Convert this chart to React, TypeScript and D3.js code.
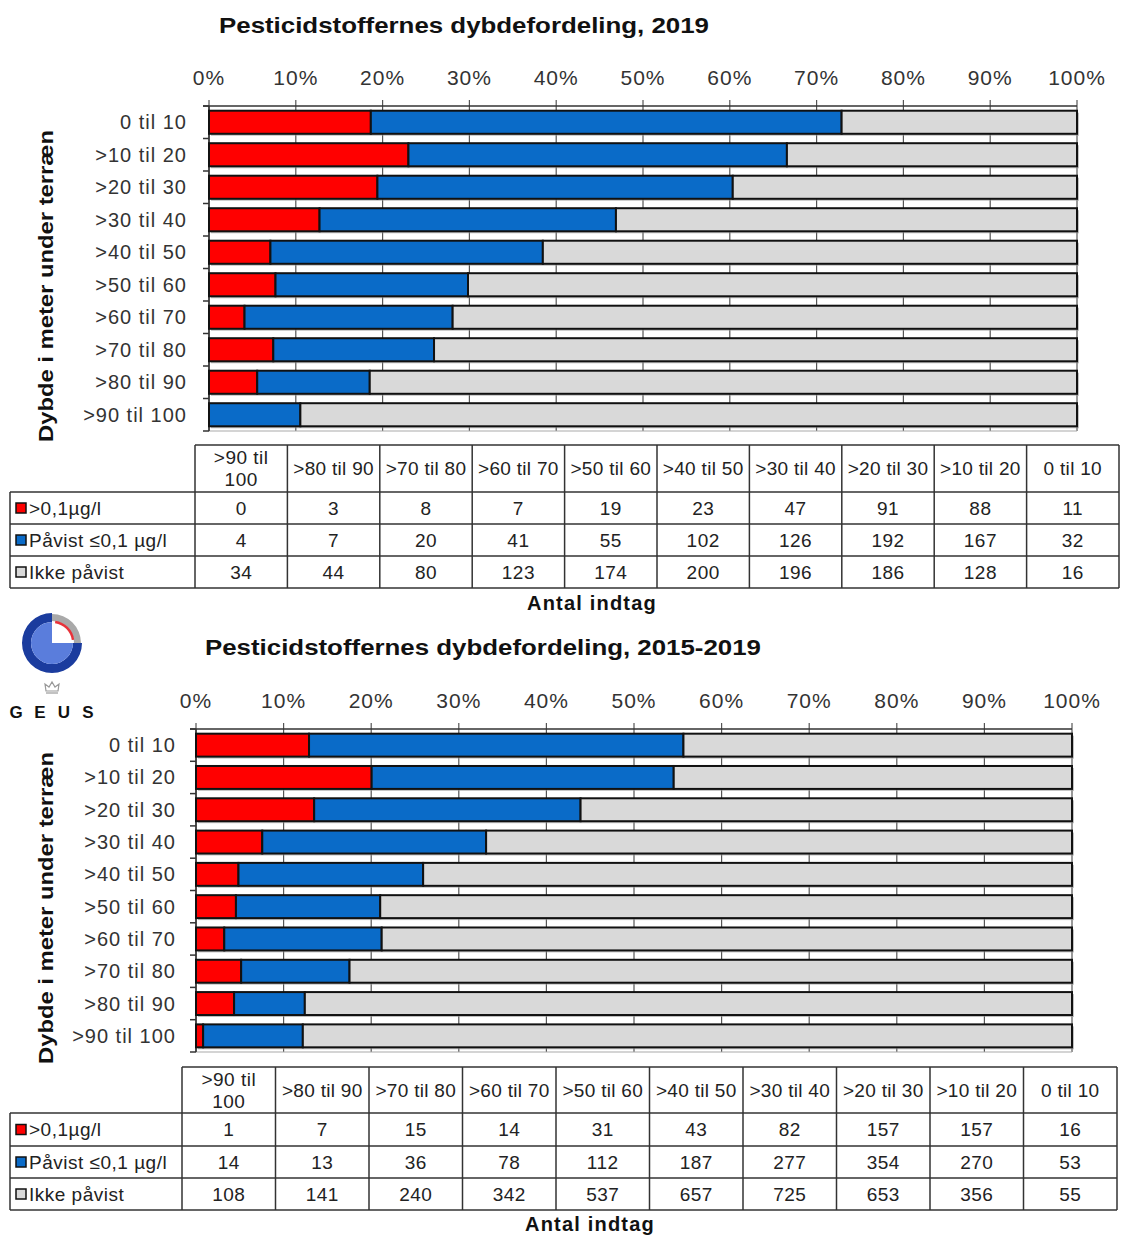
import React from "react";
import * as d3 from "d3";

const depthCategories = ["0 til 10", ">10 til 20", ">20 til 30", ">30 til 40", ">40 til 50", ">50 til 60", ">60 til 70", ">70 til 80", ">80 til 90", ">90 til 100"];
const tableColumns = [...depthCategories].reverse();
const seriesKeys = ["high", "low", "none"];
const seriesNames = [">0,1µg/l", "Påvist ≤0,1 µg/l", "Ikke påvist"];
const seriesColors = ["#ff0000", "#0a6bc8", "#d9d9d9"];
const tickValues = [0, 0.1, 0.2, 0.3, 0.4, 0.5, 0.6, 0.7, 0.8, 0.9, 1];

// values in table column order (>90 til 100 ... 0 til 10)
const high2019 = [0, 3, 8, 7, 19, 23, 47, 91, 88, 11];
const low2019 = [4, 7, 20, 41, 55, 102, 126, 192, 167, 32];
const none2019 = [34, 44, 80, 123, 174, 200, 196, 186, 128, 16];

const high1519 = [1, 7, 15, 14, 31, 43, 82, 157, 157, 16];
const low1519 = [14, 13, 36, 78, 112, 187, 277, 354, 270, 53];
const none1519 = [108, 141, 240, 342, 537, 657, 725, 653, 356, 55];

const title2019 = "Pesticidstoffernes dybdefordeling, 2019";
const title1519 = "Pesticidstoffernes dybdefordeling, 2015-2019";
const yTitle = "Dybde i meter under  terræn";
const xTitle = "Antal indtag";

const FONT = "'Liberation Sans', Arial, sans-serif";

type Cfg = {
  title: string; titleX: number; titleY: number; titleLen: number;
  tickY: number; x0: number; x1: number; top: number; bottom: number;
  labelX: number; yTitleX: number; yTitleY: number;
  legLeft: number; colStart: number; colEnd: number; headTop: number; rowLines: number[]; antalX: number; antalY: number;
};

function Panel({ cfg, high, low, none }: { cfg: Cfg; high: number[]; low: number[]; none: number[] }) {
  const rows = tableColumns.map((c, i) => ({ cat: c, high: high[i], low: low[i], none: none[i] }));
  const stacked = d3.stack<any>().keys(seriesKeys).offset(d3.stackOffsetExpand)(rows as any);
  const x = d3.scaleLinear().domain([0, 1]).range([cfg.x0, cfg.x1]);
  const y = d3.scaleBand<string>().domain(depthCategories).range([cfg.top, cfg.bottom]).paddingInner(0.29).paddingOuter(0.145);
  const step = y.step();
  const boundaries = d3.range(depthCategories.length + 1).map((i) => cfg.top + i * step);
  const colW = (cfg.colEnd - cfg.colStart) / tableColumns.length;
  const colX = (i: number) => cfg.colStart + i * colW;
  const rowsY = [cfg.headTop, ...cfg.rowLines];
  const seriesData = [high, low, none];
  const tc = "#222";
  return (
    <g fontFamily={FONT}>
      <text x={cfg.titleX} y={cfg.titleY} textAnchor="middle" dominantBaseline="central" fontWeight="bold" fontSize={22} textLength={cfg.titleLen} lengthAdjust="spacingAndGlyphs" fill="#111">{cfg.title}</text>
      {tickValues.map((t) => (
        <text key={"tl" + t} x={x(t)} y={cfg.tickY} textAnchor="middle" dominantBaseline="central" fontSize={21} letterSpacing={1} fill="#333">{d3.format(".0%")(t)}</text>
      ))}
      {/* gridlines */}
      {tickValues.map((t) => (
        <line key={"g" + t} x1={x(t)} x2={x(t)} y1={cfg.top - 6} y2={cfg.bottom} stroke="#555" strokeWidth={1.2} />
      ))}
      <line x1={cfg.x0 - 6} x2={cfg.x1} y1={cfg.top} y2={cfg.top} stroke="#333" strokeWidth={1.5} />
      <line x1={cfg.x0} x2={cfg.x1} y1={cfg.bottom} y2={cfg.bottom} stroke="#aaa" strokeWidth={1.2} />
      <line x1={cfg.x0} x2={cfg.x0} y1={cfg.top} y2={cfg.bottom} stroke="#333" strokeWidth={1.5} />
      {boundaries.map((b, i) => (
        <line key={"yt" + i} x1={cfg.x0 - 6} x2={cfg.x0} y1={b} y2={b} stroke="#333" strokeWidth={1.5} />
      ))}
      {/* shadows */}
      {rows.map((r) => (
        <rect key={"sh" + r.cat} x={x(0) + 2} y={(y(r.cat) as number) + 2} width={x(1) - x(0)} height={y.bandwidth()} fill="#999" opacity={0.6} />
      ))}
      {stacked.map((s, si) => (
        <g key={"s" + si}>
          {s.map((d: any) => (
            <rect key={d.data.cat} x={x(d[0])} y={y(d.data.cat)} width={Math.max(0, x(d[1]) - x(d[0]))} height={y.bandwidth()} fill={seriesColors[si]} stroke="#111" strokeWidth={2} />
          ))}
        </g>
      ))}
      {depthCategories.map((c) => (
        <text key={"yl" + c} x={cfg.labelX} y={(y(c) as number) + y.bandwidth() / 2} textAnchor="end" dominantBaseline="central" fontSize={20} letterSpacing={1} fill="#333">{c}</text>
      ))}
      <text transform={`translate(${cfg.yTitleX},${cfg.yTitleY}) rotate(-90)`} textAnchor="middle" dominantBaseline="central" fontSize={21} fontWeight="bold" textLength={312} lengthAdjust="spacingAndGlyphs" fill="#111">{yTitle}</text>
      {/* table */}
      <g stroke="#333" strokeWidth={1.5}>
        <line x1={cfg.colStart} x2={cfg.colEnd} y1={cfg.headTop} y2={cfg.headTop} />
        {cfg.rowLines.map((ry, i) => (
          <line key={"rl" + i} x1={cfg.legLeft} x2={cfg.colEnd} y1={ry} y2={ry} />
        ))}
        <line x1={cfg.legLeft} x2={cfg.legLeft} y1={cfg.rowLines[0]} y2={cfg.rowLines[3]} />
        {d3.range(tableColumns.length + 1).map((i) => (
          <line key={"cl" + i} x1={colX(i)} x2={colX(i)} y1={cfg.headTop} y2={cfg.rowLines[3]} />
        ))}
      </g>
      {tableColumns.map((c, i) => {
        const cx = colX(i) + colW / 2;
        const cy = (cfg.headTop + cfg.rowLines[0]) / 2;
        if (c === ">90 til 100") {
          return (
            <g key={"h" + c}>
              <text x={cx} y={cy - 11} textAnchor="middle" dominantBaseline="central" fontSize={19} letterSpacing={0.5} fill={tc}>{">90 til"}</text>
              <text x={cx} y={cy + 11} textAnchor="middle" dominantBaseline="central" fontSize={19} letterSpacing={0.5} fill={tc}>100</text>
            </g>
          );
        }
        return <text key={"h" + c} x={cx} y={cy} textAnchor="middle" dominantBaseline="central" fontSize={19} letterSpacing={0.3} fill={tc}>{c}</text>;
      })}
      {seriesNames.map((n, si) => {
        const cy = (rowsY[si + 1] + rowsY[si + 2]) / 2;
        return (
          <g key={"leg" + si}>
            <rect x={cfg.legLeft + 6} y={cy - 5} width={10} height={10} fill={seriesColors[si]} stroke="#111" strokeWidth={1.5} />
            <text x={cfg.legLeft + 19} y={cy} dominantBaseline="central" fontSize={19} letterSpacing={0.5} fill={tc}>{n}</text>
            {seriesData[si].map((v, i) => (
              <text key={"v" + i} x={colX(i) + colW / 2} y={cy} textAnchor="middle" dominantBaseline="central" fontSize={19} letterSpacing={0.5} fill={tc}>{v}</text>
            ))}
          </g>
        );
      })}
      <text x={cfg.antalX} y={cfg.antalY} textAnchor="middle" dominantBaseline="central" fontSize={20} fontWeight="bold" letterSpacing={1.2} fill="#111">{xTitle}</text>
    </g>
  );
}

function Logo() {
  const cx = 52, cy = 643;
  const arc = d3.arc<any>();
  const dark = arc({ innerRadius: 21, outerRadius: 30, startAngle: Math.PI / 2, endAngle: 2 * Math.PI } as any) as string;
  const light = arc({ innerRadius: 0, outerRadius: 21, startAngle: Math.PI / 2, endAngle: 2 * Math.PI } as any) as string;
  const gray = arc({ innerRadius: 22, outerRadius: 29, startAngle: 0, endAngle: Math.PI / 2 } as any) as string;
  const red = arc({ innerRadius: 20, outerRadius: 22.5, startAngle: 0.15, endAngle: Math.PI / 2 - 0.15 } as any) as string;
  return (
    <g fontFamily={FONT}>
      <g transform={`translate(${cx},${cy})`}>
        <path d={gray} fill="#a9a9a9" />
        <path d={red} fill="#e8333a" />
        <path d={dark} fill="#1b3c9e" />
        <path d={light} fill="#5a7ddc" />
      </g>
      <g transform="translate(52,688)" fill="none" stroke="#999" strokeWidth={1.2}>
        <path d="M-6,3 L-7,-4 L-3,-1 L0,-6 L3,-1 L7,-4 L6,3 Z" />
        <line x1={-6} x2={6} y1={5} y2={5} />
      </g>
      {["G", "E", "U", "S"].map((l, i) => (
        <text key={l} x={16 + i * 24} y={712} textAnchor="middle" dominantBaseline="central" fontSize={17} fontWeight="bold" fill="#111">{l}</text>
      ))}
    </g>
  );
}

const cfg2019: Cfg = {
  title: title2019, titleX: 464, titleY: 25, titleLen: 490,
  tickY: 77, x0: 209, x1: 1077, top: 106, bottom: 431,
  labelX: 187, yTitleX: 45, yTitleY: 286,
  legLeft: 10, colStart: 195, colEnd: 1119, headTop: 445, rowLines: [492, 524, 556, 588], antalX: 592, antalY: 603,
};

const cfg1519: Cfg = {
  title: title1519, titleX: 483, titleY: 647, titleLen: 556,
  tickY: 700, x0: 196, x1: 1072, top: 729, bottom: 1052,
  labelX: 176, yTitleX: 45, yTitleY: 908,
  legLeft: 10, colStart: 182, colEnd: 1117, headTop: 1067, rowLines: [1113, 1146, 1178, 1210], antalX: 590, antalY: 1224,
};

export default function App() {
  return (
    <div style={{ position: "absolute", left: 0, top: 0 }}>
      <svg width={1121} height={1236} style={{ display: "block", background: "#fff" }}>
        <rect width={1121} height={1236} fill="#fff" />
        <Panel cfg={cfg2019} high={high2019} low={low2019} none={none2019} />
        <Logo />
        <Panel cfg={cfg1519} high={high1519} low={low1519} none={none1519} />
      </svg>
    </div>
  );
}
